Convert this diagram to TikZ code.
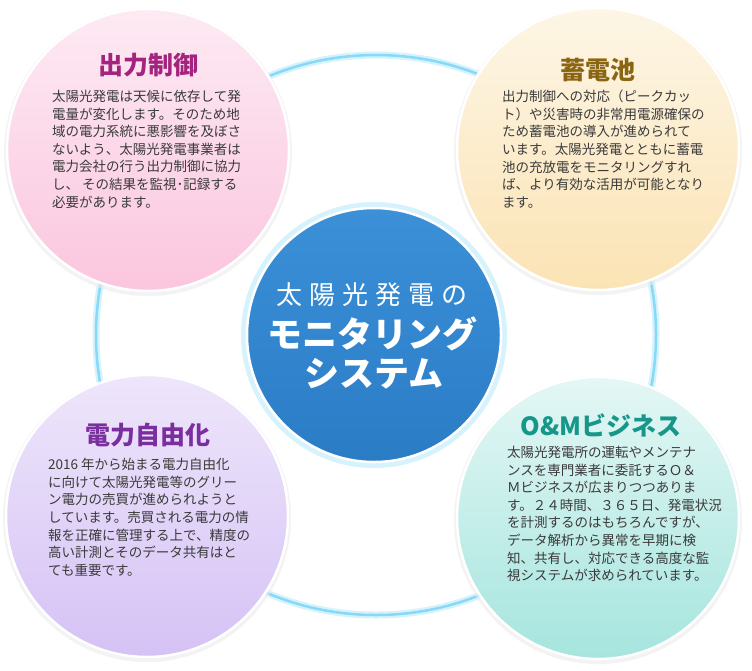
\documentclass[tikz,border=0pt]{standalone}
\usepackage{fontspec}
\newfontfamily\cjk{Noto Sans CJK JP}
\definecolor{ringc}{HTML}{86D9F7}
\definecolor{ringglow}{HTML}{D6F3FD}
\definecolor{bodyc}{HTML}{3A3A3A}
\definecolor{pinkT}{HTML}{A3237E}
\definecolor{goldT}{HTML}{8A6512}
\definecolor{purpT}{HTML}{7B2E9E}
\definecolor{tealT}{HTML}{17968A}
\definecolor{pinkA}{HTML}{FDEAF3}
\definecolor{pinkB}{HTML}{FBC6DF}
\definecolor{goldA}{HTML}{FDF6E6}
\definecolor{goldB}{HTML}{FBE3B4}
\definecolor{purpA}{HTML}{EEE6FB}
\definecolor{purpB}{HTML}{D5C2F5}
\definecolor{tealA}{HTML}{E4F7F5}
\definecolor{tealB}{HTML}{A6E5DE}
\definecolor{blueA}{HTML}{3B90D8}
\definecolor{blueB}{HTML}{2A7CC5}
\tikzset{
  bubble/.style={draw=white, line width=2.5pt},
  bodytext/.style={align=left, anchor=north west, inner sep=0pt, text=bodyc,
    font=\cjk\fontsize{13.5}{17.6}\selectfont},
  titletext/.style={anchor=center, inner sep=0pt, font=\cjk\bfseries\fontsize{25}{28}\selectfont},
  bigtext/.style={inner sep=0pt, text=white, font=\cjk\bfseries\fontsize{35}{40}\selectfont},
}
\begin{document}
\begin{tikzpicture}[x=1pt,y=-1pt]
\useasboundingbox (0,0) rectangle (752,670);
\fill[white] (0,0) rectangle (752,670);
% ring
\coordinate (ringc) at (376,335);
\draw[ringglow, line width=7pt] (ringc) circle (280);
\draw[ringc, line width=2.5pt] (ringc) circle (280);
% shadows
\foreach \cx/\cy in {148/150, 598/149, 147/516, 598/518}{
  \fill[black!8, opacity=0.6] (\cx,\cy+2) circle (144);
}
% bubbles
\shade[bubble, top color=pinkA, bottom color=pinkB] (148,150) circle (141);
\shade[bubble, top color=goldA, bottom color=goldB] (598,149) circle (141);
\shade[bubble, top color=purpA, bottom color=purpB] (147,516) circle (141);
\shade[bubble, top color=tealA, bottom color=tealB] (598,518) circle (141);
% central
\coordinate (center) at (374,335);
\fill[ringglow] (center) circle (133);
\shade[draw=white, line width=2.5pt, top color=blueA, bottom color=blueB] (center) circle (127);
% center text
\node[text=white, font=\cjk\fontsize{26}{30}\selectfont, inner sep=0pt] (c1) at (372,295) {太\hspace{7pt}陽\hspace{7pt}光\hspace{7pt}発\hspace{7pt}電\hspace{7pt}の};
\node[bigtext] (c2) at (372,334) {モニタリング};
\node[bigtext] (c3) at (374,374) {システム};
% titles
\node[titletext, text=pinkT] (t1) at (148,65) {出力制御};
\node[titletext, text=goldT] (t2) at (598,70) {蓄電池};
\node[titletext, text=purpT] (t3) at (148,435) {電力自由化};
\node[titletext, text=tealT] (t4) at (601,425) {O\&Mビジネス};
% bodies
\node[bodytext] (b1) at (52,90) {太陽光発電は天候に依存して発\\電量が変化します。そのため地\\域の電力系統に悪影響を及ぼさ\\ないよう、太陽光発電事業者は\\電力会社の行う出力制御に協力\\し、 その結果を監視･記録する\\必要があります。};
\node[bodytext] (b2) at (502,90) {出力制御への対応（ピークカッ\\ト）や災害時の非常用電源確保の\\ため蓄電池の導入が進められて\\います。太陽光発電とともに蓄電\\池の充放電をモニタリングすれ\\ば、より有効な活用が可能となり\\ます。};
\node[bodytext] (b3) at (48,458) {2016 年から始まる電力自由化\\に向けて太陽光発電等のグリー\\ン電力の売買が進められようと\\しています。売買される電力の情\\報を正確に管理する上で、精度の\\高い計測とそのデータ共有はと\\ても重要です。};
\node[bodytext] (b4) at (507,446) {太陽光発電所の運転やメンテナ\\ンスを専門業者に委託するＯ＆\\Ｍビジネスが広まりつつありま\\す。２４時間、３６５日、発電状況\\を計測するのはもちろんですが、\\データ解析から異常を早期に検\\知、共有し、対応できる高度な監\\視システムが求められています。};
\end{tikzpicture}
\end{document}
